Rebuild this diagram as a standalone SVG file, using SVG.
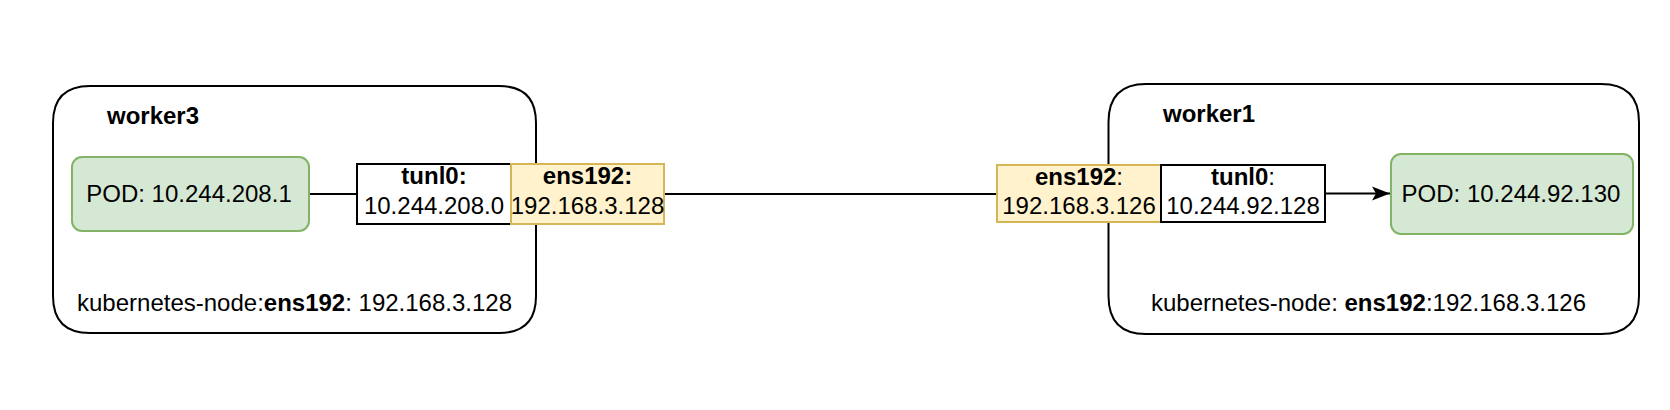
<svg xmlns="http://www.w3.org/2000/svg" width="1670" height="410" viewBox="0 0 1670 410">
<defs>
<style>
text{font-family:"Liberation Sans",Arial,Helvetica,sans-serif;font-size:24px;fill:#000}
.b{font-weight:bold}
.c{text-anchor:middle}
.box{stroke:#000;stroke-width:2;fill:#fff}
.pod{fill:#d5e8d4;stroke:#82b366;stroke-width:2}
.eth{fill:#fff2cc;stroke:#d6b656;stroke-width:2}
.edge{stroke:#000;stroke-width:2;fill:none}
</style>
<marker id="arr" markerWidth="20" markerHeight="16" viewBox="0 0 20 16" refX="18" refY="8" orient="auto" markerUnits="userSpaceOnUse">
<path d="M0,1 L18,8 L0,15 L4,8 Z" fill="#000"/>
</marker>
</defs>
<rect width="1670" height="410" fill="#fff"/>
<g id="worker3">
<path class="box" d="M90,86 H499 Q536,86 536,123 V296 Q536,333 499,333 H90 Q53,333 53,296 V123 Q53,86 90,86 Z"/>
<text class="b" x="107" y="124">worker3</text>
<text x="77" y="311">kubernetes-node:<tspan class="b">ens192</tspan>: 192.168.3.128</text>
</g>
<g id="worker1">
<path class="box" d="M1146,84 H1601 Q1639,84 1639,122 V296 Q1639,334 1601,334 H1146 Q1108.5,334 1108.5,296 V122 Q1108.5,84 1146,84 Z"/>
<text class="b" x="1163" y="122">worker1</text>
<text x="1151" y="311">kubernetes-node: <tspan class="b">ens192</tspan>:192.168.3.126</text>
</g>
<g id="connectors">
<line class="edge" x1="309" y1="194" x2="357" y2="194"/>
<line class="edge" x1="664" y1="194" x2="997" y2="194"/>
<line class="edge" x1="1325" y1="193.5" x2="1390" y2="193.5" marker-end="url(#arr)"/>
</g>
<g id="pod3">
<rect class="pod" x="72" y="157" width="237" height="74" rx="10"/>
<text class="c" x="189" y="202">POD: 10.244.208.1</text>
</g>
<g id="tunl0-w3">
<rect class="box" x="357" y="164" width="154" height="60"/>
<text class="c b" x="434" y="184">tunl0:</text>
<text class="c" x="434" y="214">10.244.208.0</text>
</g>
<g id="ens192-w3">
<rect class="eth" x="511" y="164" width="153" height="60"/>
<text class="c b" x="587.5" y="184">ens192:</text>
<text class="c" x="587.5" y="214">192.168.3.128</text>
</g>
<g id="ens192-w1">
<rect class="eth" x="997" y="165" width="164" height="57"/>
<text class="c" x="1079" y="185"><tspan class="b">ens192</tspan>:</text>
<text class="c" x="1079" y="214">192.168.3.126</text>
</g>
<g id="tunl0-w1">
<rect class="box" x="1161" y="165" width="164" height="57"/>
<text class="c" x="1243" y="185"><tspan class="b">tunl0</tspan>:</text>
<text class="c" x="1243" y="214">10.244.92.128</text>
</g>
<g id="pod1">
<rect class="pod" x="1391" y="154" width="242" height="80" rx="10"/>
<text class="c" x="1511" y="202">POD: 10.244.92.130</text>
</g>
</svg>
